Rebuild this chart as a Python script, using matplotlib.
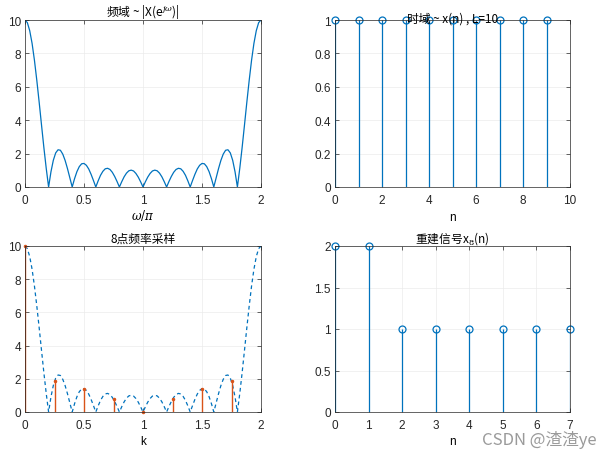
import matplotlib
matplotlib.use("Agg")
from matplotlib import pyplot as plt

plt.rcParams['font.family'] = ['Liberation Sans', 'Noto Sans CJK SC', 'DejaVu Sans']
plt.rcParams['mathtext.fontset'] = 'dejavuserif'

# frequency axis (omega/pi) and |X(e^jw)|
w = [i / 50 for i in range(101)]
mag = [10.0, 9.84, 9.36, 8.60, 7.59, 6.39, 5.08, 3.71, 2.36, 1.11,
       0.0, 0.91, 1.60, 2.04, 2.23, 2.20, 1.97, 1.59, 1.10, 0.55,
       0.0, 0.50, 0.92, 1.22, 1.39, 1.41, 1.30, 1.08, 0.76, 0.39,
       0.0, 0.37, 0.70, 0.94, 1.09, 1.12, 1.05, 0.88, 0.63, 0.33,
       0.0, 0.32, 0.61, 0.83, 0.97, 1.01, 0.96, 0.81, 0.59, 0.31,
       0.0,
       0.31, 0.59, 0.81, 0.96, 1.01, 0.97, 0.83, 0.61, 0.32, 0.0,
       0.33, 0.63, 0.88, 1.05, 1.12, 1.09, 0.94, 0.70, 0.37, 0.0,
       0.39, 0.76, 1.08, 1.30, 1.41, 1.39, 1.22, 0.92, 0.50, 0.0,
       0.55, 1.10, 1.59, 1.97, 2.20, 2.23, 2.04, 1.60, 0.91, 0.0,
       1.11, 2.36, 3.71, 5.08, 6.39, 7.59, 8.60, 9.36, 9.84, 10.0]

# time domain x(n), L=10
n_x = [0, 1, 2, 3, 4, 5, 6, 7, 8, 9]
x_n = [1, 1, 1, 1, 1, 1, 1, 1, 1, 1]

# 8-point frequency samples
k_s = [0, 0.25, 0.5, 0.75, 1.0, 1.25, 1.5, 1.75]
X_k = [10.0, 1.85, 1.41, 0.77, 0.0, 0.77, 1.41, 1.85]

# reconstructed x8(n)
n_8 = [0, 1, 2, 3, 4, 5, 6, 7]
x_8 = [2, 2, 1, 1, 1, 1, 1, 1]

blue = '#0072BD'
red = '#D95319'
cjk = ['Noto Sans CJK SC', 'DejaVu Sans']

fig = plt.figure(figsize=(6.11, 4.56), dpi=100)
W, H = 611, 456
def add_ax(l, t, r, b):
    return fig.add_axes([l / W, 1 - b / H, (r - l) / W, (b - t) / H])

ax1 = add_ax(25, 21, 261, 188)
ax2 = add_ax(335, 21, 570, 188)
ax3 = add_ax(25, 247, 261, 413)
ax4 = add_ax(335, 247, 570, 413)

def style(ax):
    ax.grid(True, color='#ebebeb', linewidth=0.5)
    ax.set_axisbelow(True)
    ax.tick_params(direction='in', length=3, width=0.5, labelsize=8.5,
                   top=True, right=True, colors='#262626', pad=3)
    ax.tick_params(axis='x', pad=5)
    for s in ax.spines.values():
        s.set_color('#262626')
        s.set_linewidth(0.5)

# top-left
ax1.plot(w, mag, color=blue, linewidth=0.9)
ax1.set_xlim(0, 2)
ax1.set_ylim(0, 10)
ax1.set_xticks([0, 0.5, 1, 1.5, 2])
ax1.set_xticklabels(['0', '0.5', '1', '1.5', '2'])
ax1.set_title(r'频域 ~ |X(e$^{j\omega}$)|', fontsize=8.5, pad=3, family=cjk)
ax1.set_xlabel(r'$\omega/\pi$', fontsize=8.5, labelpad=1)
style(ax1)

# top-right
ml, sl, bl = ax2.stem(n_x, x_n, basefmt=' ')
plt.setp(sl, color=blue, linewidth=0.9)
plt.setp(ml, color=blue, marker='o', markerfacecolor='none', markersize=5, markeredgewidth=0.9)
ml.set_clip_on(False)
ax2.set_xlim(0, 10)
ax2.set_ylim(0, 1)
ax2.set_xticks([0, 2, 4, 6, 8, 10])
ax2.set_yticks([0, 0.2, 0.4, 0.6, 0.8, 1])
ax2.set_yticklabels(['0', '0.2', '0.4', '0.6', '0.8', '1'])
ax2.set_title('时域 ~ x(n) , L=10', fontsize=8.5, pad=-1, family=cjk)
ax2.set_xlabel('n', fontsize=8.5, labelpad=4)
style(ax2)

# bottom-left
ax3.plot(w, mag, color=blue, linewidth=0.9, linestyle='--', dashes=(3, 2.5))
ml, sl, bl = ax3.stem(k_s, X_k, basefmt=' ')
plt.setp(sl, color=red, linewidth=1.0)
plt.setp(ml, color=red, marker='.', markersize=3)
ml.set_clip_on(False)
ax3.set_xlim(0, 2)
ax3.set_ylim(0, 10)
ax3.set_xticks([0, 0.5, 1, 1.5, 2])
ax3.set_xticklabels(['0', '0.5', '1', '1.5', '2'])
ax3.set_title('8点频率采样', fontsize=8.5, pad=3, family=cjk)
ax3.set_xlabel('k', fontsize=8.5, labelpad=3)
style(ax3)

# bottom-right
ml, sl, bl = ax4.stem(n_8, x_8, basefmt=' ')
plt.setp(sl, color=blue, linewidth=0.9)
plt.setp(ml, color=blue, marker='o', markerfacecolor='none', markersize=5, markeredgewidth=0.9)
ml.set_clip_on(False)
ax4.set_xlim(0, 7)
ax4.set_ylim(0, 2)
ax4.set_xticks(n_8)
ax4.set_yticks([0, 0.5, 1, 1.5, 2])
ax4.set_yticklabels(['0', '0.5', '1', '1.5', '2'])
ax4.set_title('重建信号x$_8$(n)', fontsize=8.5, pad=3, family=cjk)
ax4.set_xlabel('n', fontsize=8.5, labelpad=3)
style(ax4)

fig.text(597 / W, 1 - 440 / H, 'CSDN @渣渣ye', fontsize=12, color='#9a9a9a',
         ha='right', va='center', family=cjk, zorder=0)

fig.savefig('out.png', dpi=100)
